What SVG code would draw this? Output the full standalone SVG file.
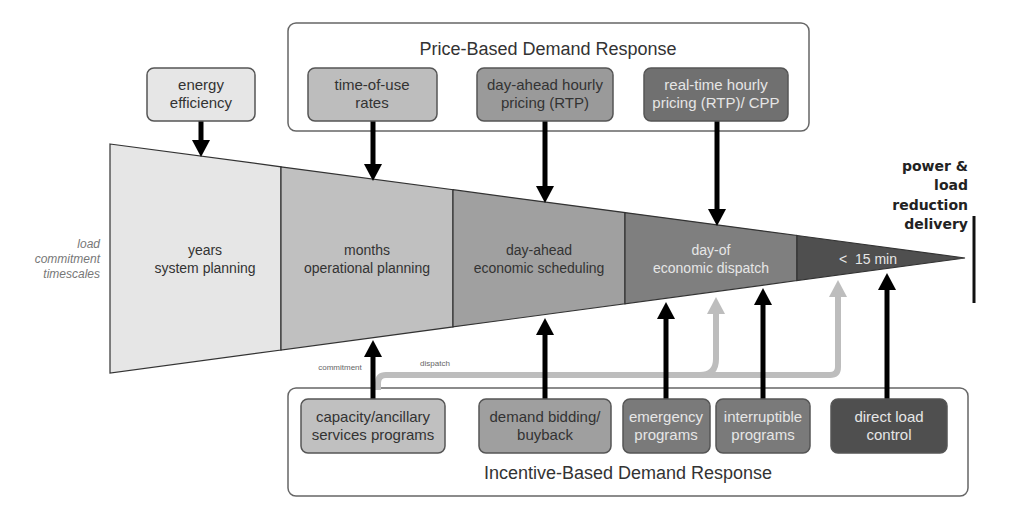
<svg xmlns="http://www.w3.org/2000/svg" width="1024" height="530" viewBox="0 0 1024 530">
<defs>
<marker id="ab" markerUnits="userSpaceOnUse" markerWidth="20" markerHeight="22" viewBox="0 -11 18 22" refX="0" refY="0" orient="auto">
<path d="M0,-9 L17,0 L0,9 z" fill="#000"/>
</marker>
<marker id="ag" markerUnits="userSpaceOnUse" markerWidth="20" markerHeight="22" viewBox="0 -11 18 22" refX="0" refY="0" orient="auto">
<path d="M0,-9 L17,0 L0,9 z" fill="#bdbdbd"/>
</marker>
</defs>
<style>
text{font-family:"Liberation Sans",Arial,sans-serif;}
text.dl{font-family:"DejaVu Sans",Verdana,sans-serif;font-weight:bold;font-size:14px;fill:#222;text-anchor:end;}
text.ts{font-size:12px;font-style:italic;fill:#777;text-anchor:end;}
text.sm{font-size:8px;fill:#666;text-anchor:middle;}
.box{stroke:#555;stroke-width:1.5;}
.frame{fill:#fff;stroke:#666;stroke-width:1.5;}
.seg{stroke:#333;stroke-width:1.2;}
.lbl{font-size:15px;text-anchor:middle;}
.seglbl{font-size:14px;text-anchor:middle;}
.dk{fill:#333;}
.lt{fill:#e6e6e6;}
.title{font-size:18px;text-anchor:middle;fill:#333;}
.ab{stroke:#000;stroke-width:5;fill:none;marker-end:url(#ab);}
.ag{stroke:#bdbdbd;stroke-width:6;fill:none;}
.agh{stroke:#bdbdbd;stroke-width:6;fill:none;marker-end:url(#ag);}
</style>
<rect width="1024" height="530" fill="#fff"/>

<g id="price-frame">
<rect class="frame" x="288" y="23" width="521" height="108" rx="8"/>
<text class="title" x="548" y="55">Price-Based Demand Response</text>
</g>
<g id="incentive-frame">
<rect class="frame" x="288" y="388" width="680" height="108" rx="8"/>
<text class="title" x="628" y="479">Incentive-Based Demand Response</text>
</g>

<g id="timescale-wedge">
<polygon class="seg" fill="#e6e6e6" points="110,144 281,166.8 281,350 110,373"/>
<polygon class="seg" fill="#c0c0c0" points="281,166.8 453,189.7 453,326.9 281,350"/>
<polygon class="seg" fill="#a0a0a0" points="453,189.7 625,212.6 625,303.8 453,326.9"/>
<polygon class="seg" fill="#7f7f7f" points="625,212.6 797,235.5 797,280.6 625,303.8"/>
<polygon class="seg" fill="#4f4f4f" points="797,235.5 965,258 797,280.6"/>
<text class="seglbl dk" x="205" y="255">years</text>
<text class="seglbl dk" x="205" y="273">system planning</text>
<text class="seglbl dk" x="367" y="255">months</text>
<text class="seglbl dk" x="367" y="273">operational planning</text>
<text class="seglbl dk" x="539" y="255">day-ahead</text>
<text class="seglbl dk" x="539" y="273">economic scheduling</text>
<text class="seglbl lt" x="711" y="255">day-of</text>
<text class="seglbl lt" x="711" y="273">economic dispatch</text>
<text class="seglbl lt" x="868" y="264" xml:space="preserve">&lt;  15 min</text>
</g>

<g id="timescale-label">
<text class="ts" x="100" y="248">load</text>
<text class="ts" x="100" y="263">commitment</text>
<text class="ts" x="100" y="278">timescales</text>
</g>

<g id="delivery">
<text class="dl" x="968" y="171">power &amp;</text>
<text class="dl" x="968" y="190">load</text>
<text class="dl" x="968" y="210">reduction</text>
<text class="dl" x="968" y="229">delivery</text>
<line x1="974" y1="216" x2="974" y2="303" stroke="#111" stroke-width="3"/>
</g>

<g id="connectors">
<path class="ag" d="M378,390 L378,383 Q378,375 386,375 L830,375 Q838,375 838,367 L838,300"/>
<path class="agh" d="M838,310 L838,297"/>
<path class="ag" d="M700,375 Q716,375 716,359 L716,318"/>
<path class="agh" d="M716,325 L716,314"/>
<line class="ab" x1="201" y1="121" x2="201" y2="140"/>
<line class="ab" x1="373" y1="121" x2="373" y2="164"/>
<line class="ab" x1="545" y1="121" x2="545" y2="186"/>
<line class="ab" x1="717" y1="121" x2="717" y2="209"/>
<line class="ab" x1="373" y1="402" x2="373" y2="357"/>
<line class="ab" x1="545" y1="402" x2="545" y2="335"/>
<line class="ab" x1="666" y1="402" x2="666" y2="319"/>
<line class="ab" x1="763" y1="402" x2="763" y2="305"/>
<line class="ab" x1="887" y1="402" x2="887" y2="290"/>
<text class="sm" x="340" y="370">commitment</text>
<text class="sm" x="435" y="366">dispatch</text>
</g>

<g id="energy-efficiency">
<rect class="box" x="147" y="68" width="108" height="53" rx="7" fill="#e6e6e6"/>
<text class="lbl dk" x="201" y="90">energy</text>
<text class="lbl dk" x="201" y="108">efficiency</text>
</g>
<g id="time-of-use">
<rect class="box" x="308" y="68" width="129" height="53" rx="7" fill="#bdbdbd"/>
<text class="lbl dk" x="372" y="90">time-of-use</text>
<text class="lbl dk" x="372" y="108">rates</text>
</g>
<g id="day-ahead-pricing">
<rect class="box" x="477" y="68" width="136" height="53" rx="7" fill="#9a9a9a"/>
<text class="lbl dk" x="545" y="90">day-ahead hourly</text>
<text class="lbl dk" x="545" y="108">pricing (RTP)</text>
</g>
<g id="real-time-pricing">
<rect class="box" x="644" y="68" width="144" height="53" rx="7" fill="#707070"/>
<text class="lbl lt" x="716" y="90">real-time hourly</text>
<text class="lbl lt" x="716" y="108">pricing (RTP)/ CPP</text>
</g>

<g id="capacity-ancillary">
<rect class="box" x="301" y="399" width="144" height="54" rx="7" fill="#c0c0c0"/>
<text class="lbl dk" x="373" y="422">capacity/ancillary</text>
<text class="lbl dk" x="373" y="440">services programs</text>
</g>
<g id="demand-bidding">
<rect class="box" x="479" y="399" width="132" height="54" rx="7" fill="#9f9f9f"/>
<text class="lbl dk" x="545" y="422">demand bidding/</text>
<text class="lbl dk" x="545" y="440">buyback</text>
</g>
<g id="emergency">
<rect class="box" x="623" y="399" width="87" height="54" rx="7" fill="#7a7a7a"/>
<text class="lbl lt" x="666" y="422">emergency</text>
<text class="lbl lt" x="666" y="440">programs</text>
</g>
<g id="interruptible">
<rect class="box" x="716" y="399" width="94" height="54" rx="7" fill="#7a7a7a"/>
<text class="lbl lt" x="763" y="422">interruptible</text>
<text class="lbl lt" x="763" y="440">programs</text>
</g>
<g id="direct-load">
<rect class="box" x="831" y="399" width="116" height="54" rx="7" fill="#4f4f4f"/>
<text class="lbl lt" x="889" y="422">direct load</text>
<text class="lbl lt" x="889" y="440">control</text>
</g>
</svg>
